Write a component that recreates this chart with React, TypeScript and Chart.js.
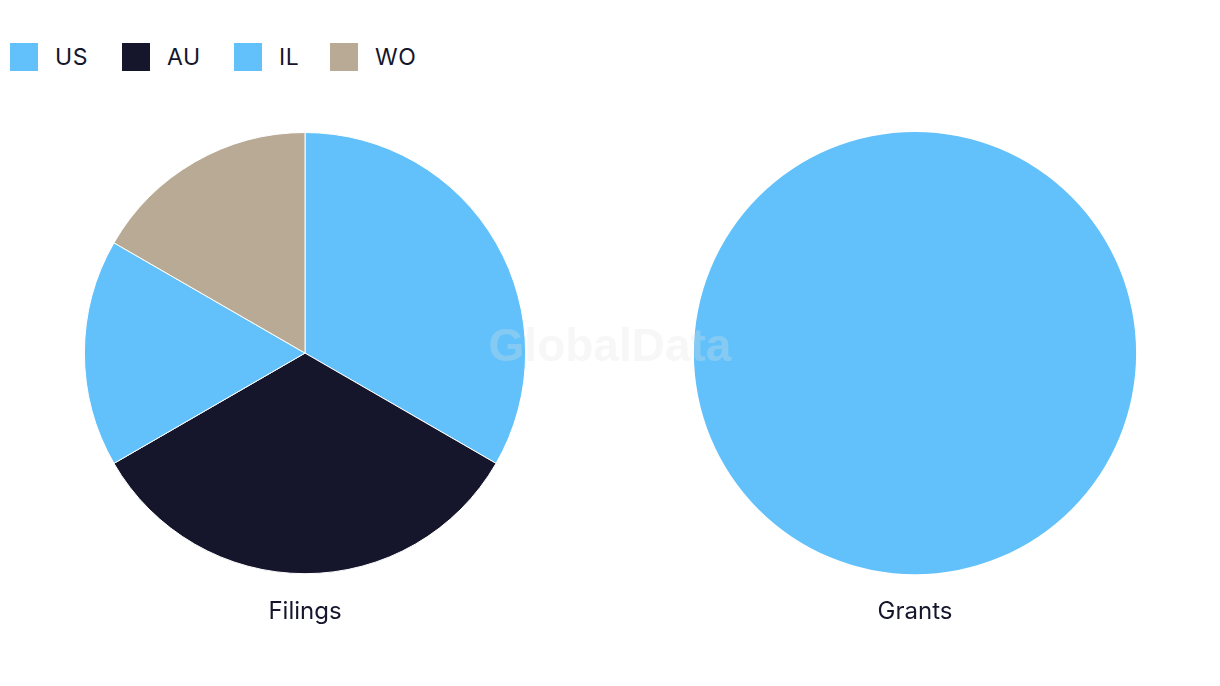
import React, { useEffect, useRef } from "react";
import { Chart, registerables } from "chart.js";

Chart.register(...registerables);

const categories = ["US", "AU", "IL", "WO"];
const colors = ["#62C1FA", "#15162B", "#62C1FA", "#B8AA95"];
const filingsValues = [2, 2, 1, 1];
const grantsValues = [1, 0, 0, 0];
const chartTitles = ["Filings", "Grants"];
const legendX = [10, 122, 234, 330];

const FONT = "Inter, 'Noto Sans', sans-serif";
const TEXT = "#15162B";

function PieCanvas({ values, title, border }: { values: number[]; title: string; border: number }) {
  const ref = useRef<HTMLCanvasElement | null>(null);
  useEffect(() => {
    if (!ref.current) return;
    const chart = new Chart(ref.current, {
      type: "pie",
      data: {
        labels: categories,
        datasets: [
          {
            data: values,
            backgroundColor: colors,
            borderColor: "#ffffff",
            borderWidth: border,
          },
        ],
      },
      options: {
        responsive: false,
        animation: false,
        layout: { padding: 0 },
        plugins: {
          legend: { display: false },
          tooltip: { enabled: false },
          title: {
            display: true,
            text: title,
            position: "bottom",
            color: TEXT,
            font: { family: FONT, size: 24, weight: "normal" },
            padding: { top: 23, bottom: 8 },
          },
        },
      },
    });
    return () => chart.destroy();
  }, [values, title, border]);
  return <canvas ref={ref} width={610} height={502} style={{ width: 610, height: 502, display: "block" }} />;
}

export default function App() {
  useEffect(() => {
    document.body.style.margin = "0";
  }, []);
  return (
    <div style={{ position: "relative", width: 1220, height: 686, background: "#fff", overflow: "hidden", fontFamily: FONT }}>
      {categories.map((c, i) => (
        <div key={c} style={{ position: "absolute", left: legendX[i], top: 43, display: "flex", alignItems: "center" }}>
          <div style={{ width: 28, height: 28, background: colors[i] }} />
          <span style={{ marginLeft: 17, fontSize: 23, color: TEXT, lineHeight: "28px", letterSpacing: 0.6 }}>{c}</span>
        </div>
      ))}
      <div style={{ position: "absolute", left: 0, top: 132 }}>
        <PieCanvas values={filingsValues} title={chartTitles[0]} border={1} />
      </div>
      <div style={{ position: "absolute", left: 610, top: 132 }}>
        <PieCanvas values={grantsValues} title={chartTitles[1]} border={0} />
      </div>
      <div
        style={{
          position: "absolute",
          left: 0,
          width: 1220,
          top: 318,
          textAlign: "center",
          fontSize: 46,
          fontWeight: 700,
          color: "rgba(225,225,225,0.28)",
          fontFamily: "'Liberation Sans', Arial, sans-serif",
          pointerEvents: "none",
        }}
      >
        GlobalData
      </div>
    </div>
  );
}
